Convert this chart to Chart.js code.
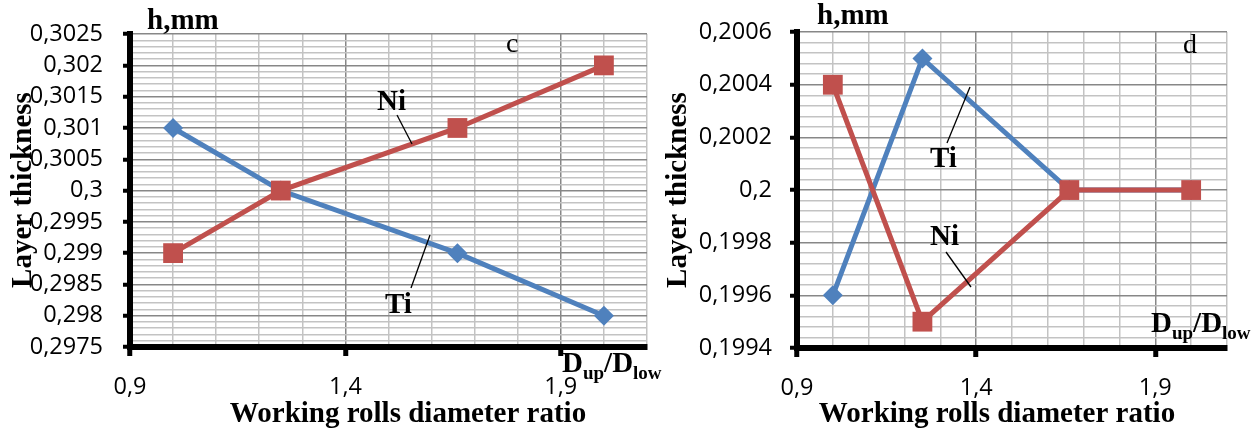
<!DOCTYPE html>
<html>
<head>
<meta charset="utf-8">
<script src="https://cdn.jsdelivr.net/npm/chart.js@4/dist/chart.umd.min.js"></script>
<style>
body { margin: 0; background: #fff; width: 1258px; height: 430px; overflow: hidden; position: relative; }
canvas { position: absolute; top: 0; }
#chartC { left: 0; }
#chartD { left: 650px; }
</style>
</head>
<body>
<canvas id="chartC" width="690" height="430"></canvas>
<canvas id="chartD" width="608" height="430"></canvas>
<script>
// values (c and d)
const ratio = [1.0, 1.25, 1.66, 2.0];
const tiC = [0.301, 0.300, 0.299, 0.298];
const niC = [0.299, 0.300, 0.301, 0.302];
const tiD = [0.1996, 0.2005, 0.2000, 0.2000];
const niD = [0.2004, 0.1995, 0.2000, 0.2000];

// axes: [min, max, minor step], labels on every 5th line
const xAxis = [0.9, 2.1, 0.1];
const yAxisC = [0.2975, 0.3025, 0.0001];
const yAxisD = [0.1994, 0.2006, 0.00004];

const BLUE = '#4f81bd';
const RED = '#c0504d';
const BOLD = 'bold 29px "Liberation Serif"';
const SUB = 'bold 19px "Liberation Serif"';

Chart.defaults.font.family = '"Open Sans"';
Chart.defaults.color = '#000';

function fmt(v) {
    return String(+v.toFixed(4)).replace('.', ',');
}

function tickList(ax) {
    const n = Math.round((ax[1] - ax[0]) / ax[2]);
    const out = [];
    for (let i = 0; i <= n; i++) out.push({ value: +(ax[0] + i * ax[2]).toFixed(6) });
    return out;
}

function series(label, ys, color, style, r) {
    return {
        label: label,
        data: ratio.map((x, i) => ({ x: x, y: ys[i] })),
        borderColor: color,
        backgroundColor: color,
        borderWidth: 5,
        pointStyle: style,
        pointRadius: r,
        pointHoverRadius: r,
        pointBorderWidth: 0,
        tension: 0
    };
}

function gridOpts(tickLen, tickW) {
    return {
        color: c => c.index % 5 === 0 ? '#878787' : '#c3c3c3',
        lineWidth: 1.5,
        tickLength: tickLen,
        tickWidth: tickW,
        tickColor: c => c.index % 5 === 0 ? '#000' : 'rgba(0,0,0,0)'
    };
}

// text annotations, drawn after the chart
const notes = {
    id: 'notes',
    afterDraw(chart, args, o) {
        const ctx = chart.ctx;
        ctx.save();
        ctx.fillStyle = '#000';
        ctx.strokeStyle = '#000';
        ctx.textBaseline = 'alphabetic';
        o.texts.forEach(t => {
            ctx.font = t.font;
            ctx.textAlign = t.align || 'left';
            if (t.rot) {
                ctx.save();
                ctx.translate(t.x, t.y);
                ctx.rotate(-Math.PI / 2);
                ctx.fillText(t.text, 0, 0);
                ctx.restore();
            } else {
                ctx.fillText(t.text, t.x, t.y);
            }
        });
        ctx.lineWidth = 1.3;
        o.leaders.forEach(l => {
            ctx.beginPath();
            ctx.moveTo(l[0], l[1]);
            ctx.lineTo(l[2], l[3]);
            ctx.stroke();
        });
        // D_up / D_low
        let x = o.ratioAt[0];
        const y = o.ratioAt[1];
        ctx.textAlign = 'left';
        [['D', BOLD, 0], ['up', SUB, 7], ['/', BOLD, 0], ['D', BOLD, 0], ['low', SUB, 7]].forEach(p => {
            ctx.font = p[1];
            ctx.fillText(p[0], x, y + p[2]);
            x += ctx.measureText(p[0]).width;
        });
        ctx.restore();
    }
};

function makeChart(id, ti, ni, yAx, yWidth, xHeight, pad, labelPad, noteOpts) {
    return new Chart(document.getElementById(id), {
        type: 'line',
        data: {
            datasets: [
                series('Ni', ni, RED, 'rect', 14),
                series('Ti', ti, BLUE, 'rectRot', 10)
            ]
        },
        options: {
            responsive: false,
            animation: false,
            devicePixelRatio: 1,
            events: [],
            layout: { padding: pad },
            plugins: {
                legend: { display: false },
                tooltip: { enabled: false },
                notes: noteOpts
            },
            scales: {
                x: {
                    type: 'linear',
                    min: xAxis[0],
                    max: xAxis[1],
                    afterBuildTicks: s => { s.ticks = tickList(xAxis); },
                    afterFit: s => { s.height = xHeight; },
                    ticks: {
                        autoSkip: false,
                        maxRotation: 0,
                        padding: 17,
                        font: { size: 23.5 },
                        callback: (v, i) => i % 5 === 0 ? fmt(v) : ''
                    },
                    grid: gridOpts(9, 5),
                    border: { display: true, color: '#000', width: 6 }
                },
                y: {
                    min: yAx[0],
                    max: yAx[1],
                    afterBuildTicks: s => { s.ticks = tickList(yAx); },
                    afterFit: s => { s.width = yWidth; },
                    ticks: {
                        autoSkip: false,
                        padding: labelPad,
                        font: { size: 23.5 },
                        callback: (v, i) => i % 5 === 0 ? fmt(v) : ''
                    },
                    grid: gridOpts(7, 4),
                    border: { display: true, color: '#000', width: 6 }
                }
            }
        },
        plugins: [notes]
    });
}

makeChart('chartC', tiC, niC, yAxisC, 130, 83, { left: 0, top: 24, right: 43, bottom: 0 }, 20, {
    texts: [
        { text: 'h,mm', font: BOLD, x: 147, y: 29 },
        { text: 'c', font: '28px "Liberation Serif"', x: 506, y: 52 },
        { text: 'Ni', font: BOLD, x: 377, y: 110 },
        { text: 'Ti', font: BOLD, x: 385, y: 313 },
        { text: 'Working rolls diameter ratio', font: BOLD, x: 408, y: 422, align: 'center' },
        { text: 'Layer thickness', font: BOLD, x: 31, y: 190, align: 'center', rot: true }
    ],
    leaders: [[397, 115, 412, 144], [411, 288, 430, 235]],
    ratioAt: [562, 372]
});

makeChart('chartD', tiD, niD, yAxisD, 147, 82, { left: 0, top: 21, right: 31, bottom: 0 }, 18, {
    texts: [
        { text: 'h,mm', font: BOLD, x: 167, y: 24 },
        { text: 'd', font: '28px "Liberation Serif"', x: 533, y: 53 },
        { text: 'Ti', font: BOLD, x: 280, y: 167 },
        { text: 'Ni', font: BOLD, x: 280, y: 245 },
        { text: 'Working rolls diameter ratio', font: BOLD, x: 347, y: 422, align: 'center' },
        { text: 'Layer thickness', font: BOLD, x: 36, y: 190, align: 'center', rot: true }
    ],
    leaders: [[297, 143, 320, 87], [296, 252, 321, 287]],
    ratioAt: [501, 332]
});
</script>
</body>
</html>
